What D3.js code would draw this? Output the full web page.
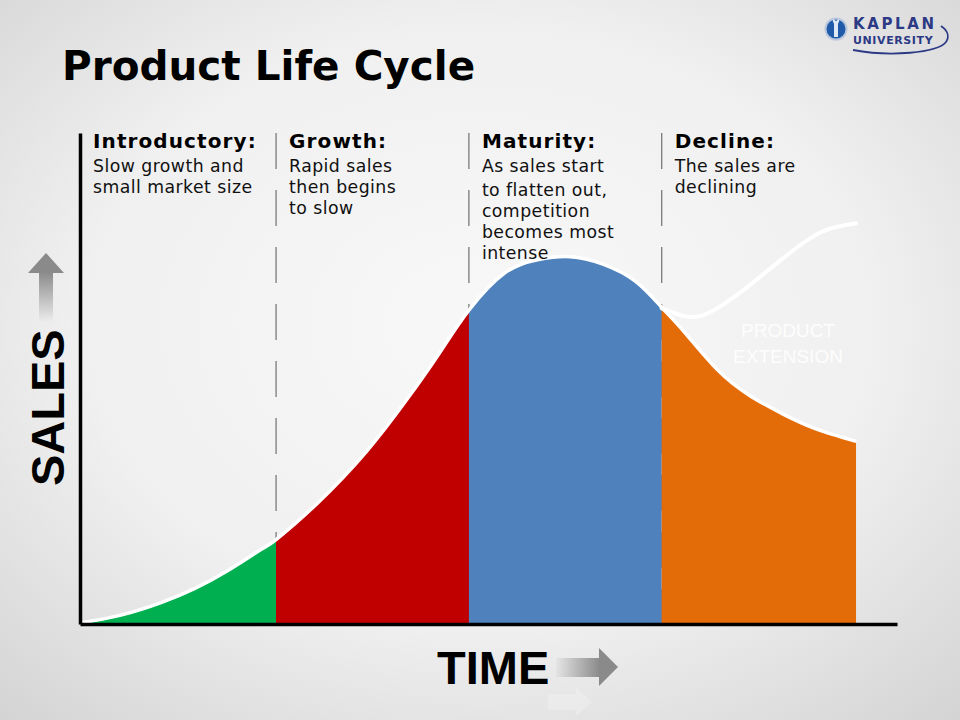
<!DOCTYPE html>
<html>
<head>
<meta charset="utf-8">
<script src="https://cdn.jsdelivr.net/npm/d3@7"></script>
<style>
  body { margin: 0; background: #e6e6e6; }
  svg { display: block; }
</style>
</head>
<body>
<div id="chart"></div>
<script>
// stages of the cycle
const stageNames = ["Introductory:", "Growth:", "Maturity:", "Decline:"];
const stageNotes = [
  ["Slow growth and", "small market size"],
  ["Rapid sales", "then begins", "to slow"],
  ["As sales start", "to flatten out,", "competition", "becomes most", "intense"],
  ["The sales are", "declining"]
];
const stageBounds = [0, 24, 47.6, 71.2, 95];
const stageColors = ["#00b050", "#c00000", "#4f81bd", "#e36c09"];

// main sales curve (time 0..100, sales 0..100)
const timeValues  = [0, 5, 10, 14, 18, 22, 24, 29, 35, 40, 44, 47.6, 52, 56, 60, 64, 68, 71.2, 74, 78, 82, 86, 90, 95];
const salesValues = [0, 1.6, 4.2, 7.0, 10.6, 14.8, 17, 24.3, 34.8, 45.5, 55, 63.7, 71.3, 74, 74.6, 73.1, 69.6, 64.3, 59.2, 51.6, 46.3, 42.6, 39.6, 37];

// product extension curve
const extTime  = [71.2, 74.3, 77.1, 81.2, 85.3, 89.4, 92.2, 95];
const extSales = [64.3, 62.6, 63.5, 68, 73.5, 78.6, 80.7, 81.6];

const width = 960, height = 720;

const svg = d3.select("#chart").append("svg")
  .attr("width", width)
  .attr("height", height)
  .attr("viewBox", [0, 0, width, height]);

const defs = svg.append("defs");

const bg = defs.append("radialGradient").attr("id", "bg")
  .attr("cx", "50%").attr("cy", "45%").attr("r", "75%");
bg.append("stop").attr("offset", "0%").attr("stop-color", "#f8f8f8");
bg.append("stop").attr("offset", "55%").attr("stop-color", "#f0f0f0");
bg.append("stop").attr("offset", "100%").attr("stop-color", "#d3d3d3");

const upGrad = defs.append("linearGradient").attr("id", "upGrad")
  .attr("x1", 0).attr("y1", 0).attr("x2", 0).attr("y2", 1);
upGrad.append("stop").attr("offset", "0%").attr("stop-color", "#8a8a8a");
upGrad.append("stop").attr("offset", "100%").attr("stop-color", "#8a8a8a").attr("stop-opacity", 0);

const rightGrad = defs.append("linearGradient").attr("id", "rightGrad")
  .attr("x1", 0).attr("y1", 0).attr("x2", 1).attr("y2", 0);
rightGrad.append("stop").attr("offset", "0%").attr("stop-color", "#8a8a8a").attr("stop-opacity", 0.05);
rightGrad.append("stop").attr("offset", "100%").attr("stop-color", "#8a8a8a");

svg.append("rect").attr("width", width).attr("height", height).attr("fill", "url(#bg)");

const x = d3.scaleLinear().domain([0, 100]).range([80, 897]);
const y = d3.scaleLinear().domain([0, 100]).range([624, 133]);

const points = timeValues.map((t, i) => ({t: t, s: salesValues[i]}));
const extPoints = extTime.map((t, i) => ({t: t, s: extSales[i]}));

// dashed stage dividers
svg.append("g")
  .selectAll("line")
  .data(stageBounds.slice(1, 4))
  .join("line")
    .attr("x1", d => x(d)).attr("x2", d => x(d))
    .attr("y1", y(100)).attr("y2", y(0))
    .attr("stroke", "#7a7a7a")
    .attr("stroke-width", 1.3)
    .attr("stroke-dasharray", "36,21");

// coloured areas, one clip per stage
const area = d3.area()
  .x(d => x(d.t))
  .y0(y(0))
  .y1(d => y(d.s))
  .curve(d3.curveNatural);

stageColors.forEach(function(c, i) {
  defs.append("clipPath").attr("id", "clip" + i)
    .append("rect")
      .attr("x", x(stageBounds[i]))
      .attr("y", 0)
      .attr("width", x(stageBounds[i + 1]) - x(stageBounds[i]))
      .attr("height", height);
});

svg.append("g")
  .selectAll("path")
  .data(stageColors)
  .join("path")
    .attr("clip-path", (d, i) => "url(#clip" + i + ")")
    .attr("d", area(points))
    .attr("fill", d => d);

const line = d3.line()
  .x(d => x(d.t))
  .y(d => y(d.s))
  .curve(d3.curveNatural);

svg.append("path")
  .attr("d", line(points))
  .attr("fill", "none")
  .attr("stroke", "#fff")
  .attr("stroke-width", 3.5)
  .attr("transform", "translate(0,-1)");

svg.append("path")
  .attr("d", line(extPoints))
  .attr("fill", "none")
  .attr("stroke", "#fff")
  .attr("stroke-width", 4)
  .attr("stroke-linecap", "round");

// axes, plain lines
svg.append("g")
  .attr("transform", "translate(0," + y(0) + ")")
  .call(d3.axisBottom(x).ticks(0).tickSizeOuter(0));
svg.append("g")
  .attr("transform", "translate(" + x(0) + ",0)")
  .call(d3.axisLeft(y).ticks(0).tickSizeOuter(0));
svg.selectAll(".domain").attr("stroke", "#000").attr("stroke-width", 3.5);

// stage texts
const stageText = svg.append("g")
  .selectAll("g")
  .data(stageNames)
  .join("g")
    .attr("transform", (d, i) => "translate(" + (x(stageBounds[i]) + 13) + ",0)");

stageText.append("text")
  .attr("y", 148)
  .attr("font-family", "DejaVu Sans, Verdana, sans-serif")
  .attr("font-weight", "bold")
  .attr("font-size", 20)
  .attr("letter-spacing", 1.1)
  .attr("fill", "#000")
  .text(d => d);

stageText.each(function(d, i) {
  d3.select(this).selectAll("text.note")
    .data(stageNotes[i])
    .join("text")
      .attr("class", "note")
      .attr("y", (s, j) => 172 + j * 21 + (i === 2 && j > 0 ? 3 : 0))
      .attr("font-family", "DejaVu Sans, Verdana, sans-serif")
      .attr("font-size", 17.3)
      .attr("letter-spacing", 0.45)
      .attr("fill", "#111")
      .text(s => s);
});

// product extension label
svg.append("g")
  .selectAll("text")
  .data(["PRODUCT", "EXTENSION"])
  .join("text")
    .attr("x", 788)
    .attr("y", (d, i) => 337 + i * 26)
    .attr("text-anchor", "middle")
    .attr("font-family", "Liberation Sans Narrow, Liberation Sans, sans-serif")
    .attr("font-size", 19)
    .attr("fill", "#fff")
    .attr("fill-opacity", 0.9)
    .text(d => d);

// title
svg.append("text")
  .attr("x", 62)
  .attr("y", 80)
  .attr("font-family", "DejaVu Sans, Verdana, sans-serif")
  .attr("font-weight", "bold")
  .attr("font-size", 40.5)
  .attr("fill", "#000")
  .text("Product Life Cycle");

// SALES label + arrow
svg.append("text")
  .attr("transform", "translate(64,486) rotate(-90)")
  .attr("font-family", "Liberation Sans, Arial, sans-serif")
  .attr("font-weight", "bold")
  .attr("font-size", 47)
  .attr("fill", "#000")
  .text("SALES");

svg.append("rect")
  .attr("x", 39).attr("y", 272).attr("width", 14).attr("height", 50)
  .attr("fill", "url(#upGrad)");
svg.append("path")
  .attr("d", "M28,273 L46,253 L64,273 Z")
  .attr("fill", "#8a8a8a");

// TIME label + arrow
svg.append("text")
  .attr("x", 437)
  .attr("y", 684)
  .attr("font-family", "Liberation Sans, Arial, sans-serif")
  .attr("font-weight", "bold")
  .attr("font-size", 47)
  .attr("fill", "#000")
  .text("TIME");

svg.append("rect")
  .attr("x", 556).attr("y", 658).attr("width", 44).attr("height", 19)
  .attr("fill", "url(#rightGrad)");
svg.append("path")
  .attr("d", "M599,648 L618,667 L599,686 Z")
  .attr("fill", "#8a8a8a");
// faint reflection
svg.append("path")
  .attr("d", "M548,694 L576,694 L576,688 L592,702 L576,716 L576,710 L548,710 Z")
  .attr("fill", "#fff")
  .attr("fill-opacity", 0.22);

// Kaplan logo
const logo = svg.append("g");
logo.append("circle").attr("cx", 836).attr("cy", 29).attr("r", 10.5)
  .attr("fill", "#1f5ba8").attr("stroke", "#b9c6dc").attr("stroke-width", 2);
logo.append("path")
  .attr("d", "M834,37 L834,24 Q832,21 833,19 L836,21 L839,19 Q840,21 838,24 L838,37 Z")
  .attr("fill", "#dfe8f5");
logo.append("text")
  .attr("x", 853).attr("y", 29)
  .attr("font-family", "DejaVu Sans, sans-serif")
  .attr("font-weight", "bold")
  .attr("font-size", 15)
  .attr("letter-spacing", 2.6)
  .attr("fill", "#2c3a85")
  .text("KAPLAN");
logo.append("text")
  .attr("x", 853).attr("y", 44)
  .attr("font-family", "DejaVu Sans, sans-serif")
  .attr("font-weight", "bold")
  .attr("font-size", 11)
  .attr("letter-spacing", 0.6)
  .attr("fill", "#2c3a85")
  .text("UNIVERSITY");
logo.append("path")
  .attr("d", "M853,50 C890,57 937,53 946,42 C950,36 947,30 941,26")
  .attr("fill", "none")
  .attr("stroke", "#2c3a85")
  .attr("stroke-width", 1.8);
</script>
</body>
</html>
